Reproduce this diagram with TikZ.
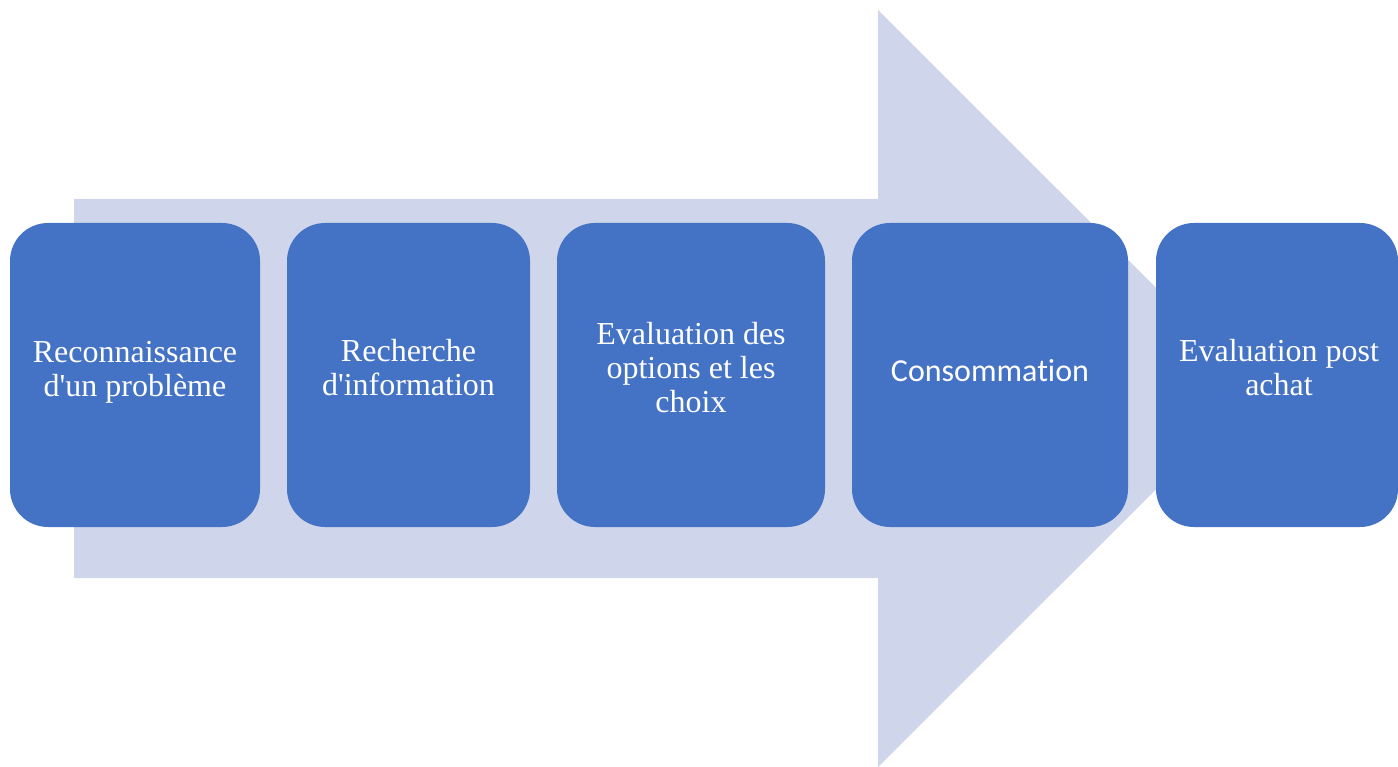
\documentclass[tikz,border=0pt]{standalone}
\usepackage{fontspec}
\newfontfamily\timesfont{Liberation Serif}
\newfontfamily\calibri{Carlito}[Ligatures={NoCommon,NoDiscretionary,NoRare}]
\definecolor{boxblue}{HTML}{4472C4}
\definecolor{arrowfill}{HTML}{CFD5EA}
\begin{document}
\begin{tikzpicture}[x=1pt,y=-1pt,
  stagebox/.style={fill=boxblue, draw=none, rounded corners=38pt, minimum height=304pt, inner sep=0pt},
  stagetext/.style={text=white, align=center, font=\timesfont\fontsize{32}{34}\selectfont, inner sep=0pt}]
\useasboundingbox (0,0) rectangle (1398,767);
% big background arrow
\fill[arrowfill] (74,199) -- (878,199) -- (878,10) -- (1257,388.5) -- (878,767) -- (878,578) -- (74,578) -- cycle;
% boxes
\node[stagebox, minimum width=250pt] (b1) at (135,375) {};
\node[stagebox, minimum width=243pt] (b2) at (408.5,375) {};
\node[stagebox, minimum width=268pt] (b3) at (691,375) {};
\node[stagebox, minimum width=276pt] (b4) at (990,375) {};
\node[stagebox, minimum width=242pt] (b5) at (1277,375) {};
% texts
\node[stagetext] (t1) at ([yshift=3pt]b1.center) {Reconnaissance\\d'un problème};
\node[stagetext] (t2) at ([yshift=7pt]b2.center) {Recherche\\d'information};
\node[stagetext] (t3) at ([yshift=7pt]b3.center) {Evaluation des\\options et les\\choix};
\node[stagetext, font=\calibri\fontsize{32}{34}\selectfont] (t4) at ([yshift=4pt]b4.center) {Consommation};
\node[stagetext] (t5) at ([xshift=2pt,yshift=7pt]b5.center) {Evaluation post\\achat};
\end{tikzpicture}
\end{document}
